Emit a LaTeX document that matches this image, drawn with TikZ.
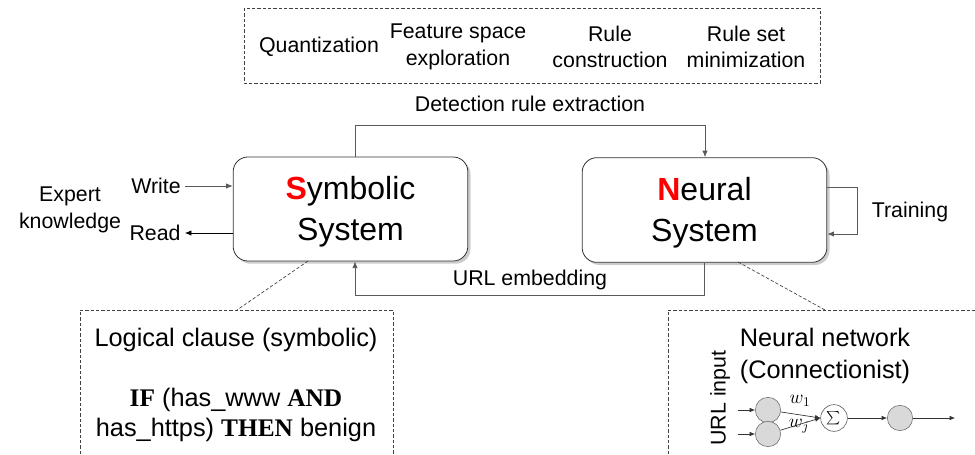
\documentclass[tikz,border=0pt]{standalone}
\usepackage{fontspec}
\setmainfont{Liberation Sans}
\newfontfamily\serifbf{Liberation Serif}
\usetikzlibrary{arrows.meta,shadows}
\begin{document}
\begin{tikzpicture}[x=0.75pt,y=-0.75pt,
  lbl/.style={font=\fontsize{16}{20}\selectfont, align=center, inner sep=0pt},
  mid/.style={font=\fontsize{19}{23}\selectfont, align=center, inner sep=0pt},
  big/.style={font=\fontsize{24}{30.5}\selectfont, align=center},
  sysbox/.style={draw=black!80, line width=0.6pt, rounded corners=11pt, fill=white,
     drop shadow={shadow xshift=2pt, shadow yshift=-2pt, opacity=0.4}},
  arr/.style={-{Latex[length=5pt,width=4pt]}, draw=black!65, line width=0.6pt},
  arrk/.style={-{Latex[length=5pt,width=4pt]}, draw=black, line width=0.6pt},
  dsh/.style={dashed, draw=black!75, line width=0.5pt, dash pattern=on 2.5pt off 1.5pt},
  neur/.style={circle, draw=black!60, fill=black!15, minimum size=19pt, inner sep=0pt},
  sumc/.style={circle, draw=black!70, fill=white, minimum size=20pt, inner sep=0pt},
  nar/.style={-{Latex[length=4pt,width=3.5pt]}, draw=black!80, line width=0.5pt}
]
\useasboundingbox (0,0) rectangle (975,454);

% top dashed box
\draw[dsh] (244,8) rectangle (820,83);
\node[lbl] (q) at (319,47) {Quantization};
\node[lbl] (f) at (458,47) {Feature space\\exploration};
\node[lbl] (rc) at (610,47) {Rule\\construction};
\node[lbl] (rs) at (746,47) {Rule set\\minimization};

\node[lbl] (dre) at (530,104) {Detection rule extraction};

% main systems
\node[sysbox, minimum width=176pt, minimum height=78pt] (sym) at (350.5,209) {};
\node[big] (symt) at (350.5,212) {{\color{red}\bfseries S}ymbolic\\System};
\node[sysbox, minimum width=183.5pt, minimum height=78.5pt] (neu) at (704.5,210) {};
\node[big] (neut) at (704.5,213) {{\color{red}\bfseries N}eural\\System};

% top connector
\coordinate (t1) at (355,125);
\coordinate (t2) at (705,125);
\draw[arr] (sym.north -| t1) -- (t1) -- (t2) -- (neu.north -| t2);

% URL embedding connector
\coordinate (u1) at (704,295);
\coordinate (u2) at (355,295);
\draw[arr] (neu.south -| u1) -- (u1) -- (u2) -- (sym.south -| u2);
\node[lbl] (ue) at (530,280) {URL embedding};

% training loop
\coordinate (tra) at (857,187);
\coordinate (trb) at (857,234);
\draw[arr] (neu.east |- tra) -- (tra) -- (trb) -- (neu.east |- trb);
\node[lbl] (tr) at (910,212) {Training};

% expert knowledge
\node[lbl] (ek) at (70,210) {Expert\\knowledge};
\node[lbl] (wr) at (156,186) {Write};
\node[lbl] (rd) at (155,233) {Read};
\draw[arr] (wr.east) ++(4,0) coordinate (wre) -- (sym.west |- wre);
\coordinate (rdy) at (0,233);
\draw[arrk] (sym.west |- rdy) -- ([xshift=3pt]rd.east);

% logical clause box
\coordinate (lb1) at (80,470);
\coordinate (lb2) at (393,470);
\coordinate (ltop) at (237,310);
\draw[dsh] (lb1) |- (lb2 |- ltop) -- (lb2);
\coordinate (sd) at (308,261);
\draw[dsh] (sd) -- (ltop);
\node[mid] (lc) at (236,340) {Logical clause (symbolic)};
\node[mid, font=\fontsize{19}{22.5}\selectfont] (ifc) at (236,415)
  {{\serifbf\bfseries IF} (has\_www {\serifbf\bfseries AND}\\has\_https) {\serifbf\bfseries THEN} benign};

% neural network box
\coordinate (nb1) at (668,470);
\coordinate (ntop) at (825,310);
\coordinate (nb2) at (980,310);
\draw[dsh] (nb1) |- (nb2);
\coordinate (nd) at (738,262);
\draw[dsh] (nd) -- (ntop);
\node[mid, font=\fontsize{19}{23.5}\selectfont] (nn) at (825,356) {Neural network\\(Connectionist)};
\node[lbl, rotate=90] (ui) at (720,398) {URL input};

\node[neur] (i1) at (768,410) {};
\node[neur] (i2) at (768,434) {};
\node[sumc] (sg) at (834,418) {$\sum$};
\node[neur] (o) at (900,418) {};
\coordinate (a1) at (738,410);
\coordinate (a2) at (738,434);
\coordinate (oe) at (955,418);
\draw[nar] (a1) -- (i1);
\draw[nar] (a2) -- (i2);
\draw[nar] (i1) -- (sg.west);
\draw[nar] (i2) -- (sg.west);
\draw[nar] (sg) -- (o);
\draw[nar] (o) -- (oe);
\node[font=\fontsize{14}{14}\selectfont, inner sep=0pt] (w1) at (800,401) {$w_1$};
\node[font=\fontsize{14}{14}\selectfont, inner sep=0pt] (wj) at (799,426) {$w_j$};
\end{tikzpicture}
\end{document}
